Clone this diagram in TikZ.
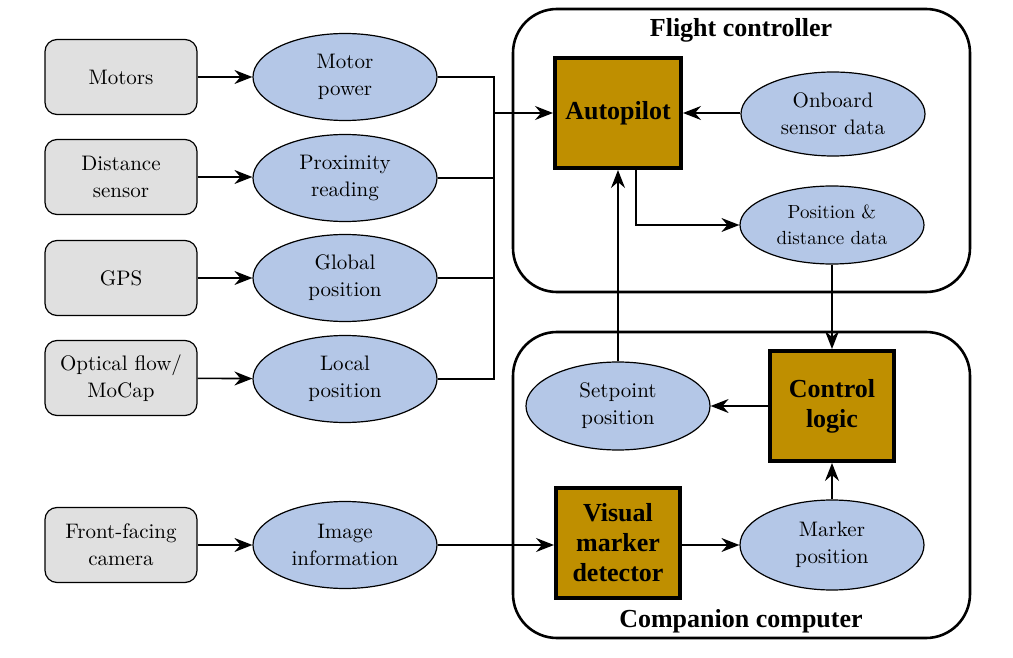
\documentclass[tikz,border=0pt]{standalone}
\usepackage{fontspec}
\newfontfamily\headfont{Liberation Serif}
\usepackage{xcolor}
\usetikzlibrary{shapes.geometric,arrows.meta}
\definecolor{gold}{HTML}{BF8F00}
\definecolor{ovalblue}{HTML}{B4C7E7}
\definecolor{boxgray}{HTML}{E0E0E0}

\begin{document}
\begin{tikzpicture}[x=0.5pt,y=-0.5pt,
		>={Stealth[length=9pt,width=7pt,inset=3pt]},
		sensor/.style={draw,line width=0.6pt,fill=boxgray,rounded corners=6pt,minimum width=76pt,minimum height=37.5pt,align=center,font=\fontsize{10.5}{13.5}\selectfont},
		data/.style={draw,line width=0.6pt,ellipse,fill=ovalblue,minimum width=92pt,minimum height=43.5pt,inner sep=0pt,align=center,font=\fontsize{10.5}{13.5}\selectfont},
		block/.style={draw,line width=2pt,fill=gold,minimum width=63pt,minimum height=55pt,inner sep=1pt,align=center,font=\fontsize{13}{15}\selectfont\headfont\bfseries},
		unit/.style={draw,line width=1.3pt,rounded corners=22pt},
		title/.style={font=\fontsize{13}{15}\selectfont\headfont\bfseries},
		link/.style={thick,->}]
	\useasboundingbox (0,0) rectangle (1013,658);
	% containers
	\draw[unit] (513,9) rectangle (970,292);
	\node[title] (fctitle) at (741,30) {Flight controller};
	\draw[unit] (513,332) rectangle (970,638);
	\node[title] (cctitle) at (741,621) {Companion computer};
	% sensors
	\node[sensor] (motors) at (121,77) {Motors};
	\node[sensor] (dist) at (121,177) {Distance\\sensor};
	\node[sensor] (gps) at (121,278) {GPS};
	\node[sensor] (flow) at (121,378) {Optical flow/\\MoCap};
	\node[sensor] (cam) at (121,545) {Front-facing\\camera};
	% data
	\node[data] (power) at (345,77) {Motor\\power};
	\node[data] (prox) at (345,178) {Proximity\\reading};
	\node[data] (global) at (345,278) {Global\\position};
	\node[data] (local) at (345,379) {Local\\position};
	\node[data] (image) at (345,545) {Image\\information};
	\node[data,minimum height=42pt] (onboard) at (833,114) {Onboard\\sensor data};
	\node[data,minimum height=39pt,font=\fontsize{9.5}{13}\selectfont] (posdist) at (832,225) {Position \&\\distance data};
	\node[data,minimum height=44pt] (setpoint) at (618,406) {Setpoint\\position};
	\node[data,minimum height=45pt] (marker) at (832,545) {Marker\\position};
	% processing
	\node[block] (auto) at (618,113) {Autopilot};
	\node[block,minimum width=62pt] (control) at (832,406) {Control\\logic};
	\node[block,minimum width=62pt] (visual) at (618,543) {Visual\\marker\\detector};
	\coordinate (bus) at (494,113);
	
	\draw[link] (motors) -- (power);
	\draw[link] (dist) -- (dist -| prox.west);
	\draw[link] (gps) -- (global);
	\draw[link] (flow) -- (local);
	\draw[link] (cam) -- (cam -| image.west);
	\draw[thick] (power.east) -| (bus |- local) -- (local.east);
	\draw[thick] (prox.east) -- (prox -| bus);
	\draw[thick] (global.east) -- (global -| bus);
	\draw[link] (bus) -- (auto.west);
	\draw[link] (onboard.west |- auto) -- (auto);
	\draw[link] ([xshift=9pt]auto.south) |- (posdist.west);
	\draw[link] (posdist) -- (control);
	\draw[link] (control) -- (setpoint);
	\draw[link] (setpoint) -- (auto);
	\draw[link] (image.east) -- (visual.west |- image);
	\draw[link] (visual.east |- marker) -- (marker.west);
	\draw[link] (marker) -- (control);
\end{tikzpicture}
\end{document}
